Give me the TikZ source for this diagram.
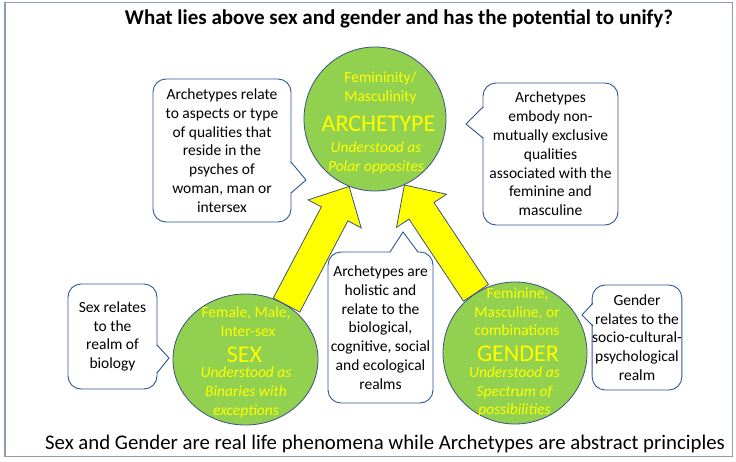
\documentclass[tikz,border=0pt]{standalone}
\usepackage{fontspec}
\setmainfont{Carlito}
\usetikzlibrary{calc,shapes.geometric}
\definecolor{lgreen}{HTML}{92D050}
\definecolor{cyellow}{HTML}{FFFF00}
\definecolor{cblue}{HTML}{2F5597}
\definecolor{cedge}{HTML}{3A5280}
\definecolor{framecol}{HTML}{8C9CB4}
\newcommand\drawBlockArrow[2]{%
  \coordinate (hh) at ($(#2)!31pt!(#1)$);
  \draw[blockarrow] ($(#1)!15pt!90:(#2)$) -- ($(hh)!15pt!-90:(#1)$) -- ($(hh)!30pt!-90:(#1)$) -- (#2) -- ($(hh)!30pt!90:(#1)$) -- ($(hh)!15pt!90:(#1)$) -- ($(#1)!15pt!-90:(#2)$) -- cycle;
}
\newcommand\drawPointer[4]{% a, b, tip, inward shift
  \fill[white] ($(#1)+#4$) -- (#3) -- ($(#2)+#4$) -- cycle;
  \draw[ptr] (#1) -- (#3) -- (#2);
}
\begin{document}
\begin{tikzpicture}[x=1pt,y=-1pt,
  circ/.style={ellipse, draw=cedge, line width=0.8pt, fill=lgreen, inner sep=0pt},
  ctext/.style={text=cyellow, font=\fontsize{15.5}{18.8}\selectfont, anchor=base, inner sep=0pt},
  cital/.style={ctext, font=\fontsize{15.5}{18.8}\selectfont\itshape},
  cbig/.style={ctext, font=\fontsize{24}{24}\selectfont},
  callout/.style={draw=cblue, fill=white, line width=0.9pt, rounded corners=13pt, align=center, inner sep=0pt, font=\fontsize{15.5}{18.8}\selectfont},
  ptr/.style={draw=cblue, line width=0.9pt, line join=miter},
  blockarrow/.style={fill=cyellow, draw=cedge, line width=0.8pt, line join=miter},
]
\useasboundingbox (0,0) rectangle (736,461);
\draw[framecol, line width=1.2pt] (5,2.5) rectangle (732.5,456.5);

\node[font=\fontsize{21}{25}\selectfont\bfseries, anchor=base, inner sep=0pt] (title) at (399,24) {What lies above sex and gender and has the potential to unify?};
\node[font=\fontsize{20.8}{25}\selectfont, anchor=base, inner sep=0pt] (bottom) at (385,449) {Sex and Gender are real life phenomena while Archetypes are abstract principles};

% circles
\node[circ, minimum width=142pt, minimum height=144pt] (arch) at (375,119) {};
\node[circ, minimum width=145pt, minimum height=131pt] (sex) at (245.5,359.5) {};
\node[circ, minimum width=144pt, minimum height=142pt] (gen) at (515,353) {};

% archetype text
\node[ctext] (a1) at (380.5,82.5) {Femininity/};
\node[ctext] (a2) at (380.5,101.5) {Masculinity};
\node[cbig] (a3) at (378.5,131) {ARCHETYPE};
\node[cital] (a4) at (376,152.5) {Understood as};
\node[cital] (a5) at (376,171.5) {Polar opposites};

% sex text
\node[ctext] (s1) at (246,317.5) {Female, Male,};
\node[ctext] (s2) at (248,336.5) {Inter-sex};
\node[cbig] (s3) at (244.5,362) {SEX};
\node[cital] (s4) at (246,377.5) {Understood as};
\node[cital] (s5) at (246,396.5) {Binaries with};
\node[cital] (s6) at (246,415.5) {exceptions};

% gender text
\node[ctext] (g1) at (517.5,298.5) {Feminine,};
\node[ctext] (g2) at (517,317.5) {Masculine, or};
\node[ctext] (g3) at (517,335.5) {combinations};
\node[cbig] (g4) at (518,361) {GENDER};
\node[cital] (g5) at (514.5,377.5) {Understood as};
\node[cital] (g6) at (514.5,396.5) {Spectrum of};
\node[cital] (g7) at (514.5,414.5) {possibilities};

% block arrows
\coordinate (la0) at (sex.53);
\coordinate (la1) at (arch.249);
\coordinate (ra0) at (gen.123);
\coordinate (ra1) at (arch.294);
\drawBlockArrow{la0}{la1}
\drawBlockArrow{ra0}{ra1}

% callouts
\node[callout, minimum width=138pt, minimum height=143pt] (c1) at (222,150.5) {Archetypes relate\\to aspects or type\\of qualities that\\reside in the\\psyches of\\woman, man or\\intersex};
\coordinate (c1a) at (291,162); \coordinate (c1b) at (291,193); \coordinate (c1t) at (306,180);
\drawPointer{c1a}{c1b}{c1t}{(-1.5,0)}

\node[callout, minimum width=135pt, minimum height=142pt] (c2) at (550.5,154) {Archetypes\\embody non-\\mutually exclusive\\qualities\\associated with the\\feminine and\\masculine};
\coordinate (c2a) at (483,107); \coordinate (c2b) at (483,138); \coordinate (c2t) at (466,124);
\drawPointer{c2a}{c2b}{c2t}{(1.5,0)}

\node[callout, minimum width=105pt, minimum height=151pt] (c3) at (380.5,327.5) {Archetypes are\\holistic and\\relate to the\\biological,\\cognitive, social\\and ecological\\realms};
\coordinate (c3a) at (390,252); \coordinate (c3b) at (418,252); \coordinate (c3t) at (403,232);
\drawPointer{c3a}{c3b}{c3t}{(0,1.5)}

\node[callout, minimum width=89pt, minimum height=105pt] (c4) at (112.5,336.5) {Sex relates\\to the\\realm of\\biology};
\coordinate (c4a) at (157,345); \coordinate (c4b) at (157,373); \coordinate (c4t) at (169,358);
\drawPointer{c4a}{c4b}{c4t}{(-1.5,0)}

\node[callout, minimum width=88pt, minimum height=105pt] (c5) at (637,337.5) {Gender\\relates to the\\socio-cultural-\\psychological\\realm};
\coordinate (c5a) at (593,303); \coordinate (c5b) at (593,326); \coordinate (c5t) at (582,315);
\drawPointer{c5a}{c5b}{c5t}{(1.5,0)}
\end{tikzpicture}
\end{document}
